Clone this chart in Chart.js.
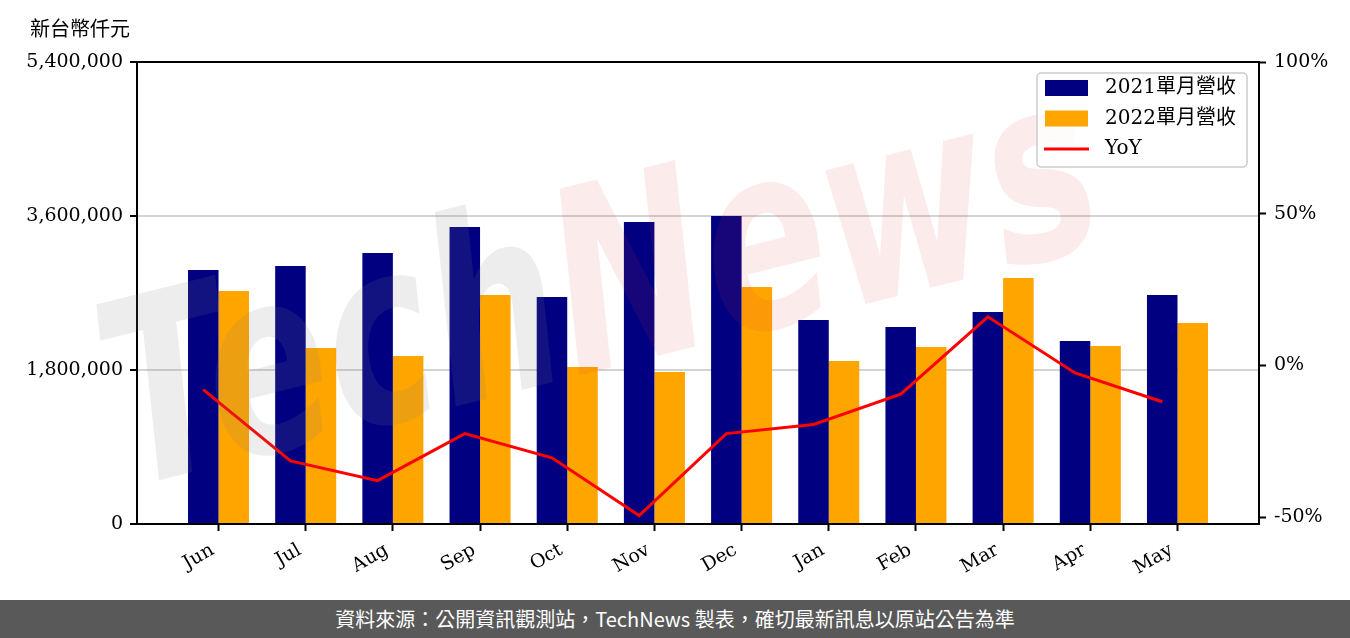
<!DOCTYPE html>
<html>
<head>
<meta charset="utf-8">
<script src="https://cdn.jsdelivr.net/npm/chart.js@4.4.0/dist/chart.umd.min.js"></script>
<style>
  body { margin: 0; background: #fff; width: 1350px; height: 638px; overflow: hidden; position: relative; }
  #wrap { position: absolute; left: 0; top: 0; width: 1350px; height: 600px; }
  #unit { position: absolute; left: 30px; top: 13px; font: 20px "Noto Sans CJK TC"; color: #000; }
  #footer { position: absolute; left: 0; top: 600px; width: 1350px; height: 38px; background: #595959;
            color: #fff; font: 20px "Noto Sans CJK TC"; text-align: center; line-height: 38px; }
</style>
</head>
<body>
<div id="wrap"><canvas id="revChart"></canvas></div>
<div id="unit">新台幣仟元</div>
<div id="footer">資料來源：公開資訊觀測站，TechNews 製表，確切最新訊息以原站公告為準</div>
<script>
const months = ["Jun", "Jul", "Aug", "Sep", "Oct", "Nov", "Dec", "Jan", "Feb", "Mar", "Apr", "May"];
const rev2021 = [2969000, 3016000, 3168000, 3471000, 2653000, 3530000, 3600000, 2384000, 2303000, 2478000, 2139000, 2677000];
const rev2022 = [2723000, 2057000, 1964000, 2677000, 1835000, 1777000, 2770000, 1905000, 2069000, 2875000, 2081000, 2349000];
const yoy = [-8.0, -31.5, -38.0, -22.5, -30.5, -49.5, -22.5, -19.5, -9.5, 16.0, -2.5, -12.0];
const revTicks = [0, 1800000, 3600000, 5400000];
const yoyTicks = [-50, 0, 50, 100];

const serif = '"DejaVu Serif", "Noto Sans CJK TC"';
const barShift = 0.175; // line sits on the 2021 bar centre

// watermark drawn over the bars
const watermark = {
  id: "watermark",
  afterDatasetsDraw(chart) {
    const ctx = chart.ctx;
    ctx.save();
    ctx.translate(128, 488);
    ctx.rotate(-14 * Math.PI / 180);
    ctx.scale(1, 1.4);
    ctx.font = 'italic bold 182px "DejaVu Sans"';
    ctx.fillStyle = "rgba(128,128,128,0.14)";
    ctx.fillText("Tech", 0, 0);
    const w = ctx.measureText("Tech").width;
    ctx.fillStyle = "rgba(220,60,60,0.1)";
    ctx.fillText("News", w, 0);
    ctx.restore();
  }
};

// boxed legend + top frame line
const boxLegend = {
  id: "boxLegend",
  afterDraw(chart) {
    const ctx = chart.ctx;
    const a = chart.chartArea;
    ctx.save();
    ctx.strokeStyle = "#000";
    ctx.lineWidth = 2;
    ctx.beginPath();
    ctx.moveTo(a.left - 1, a.top);
    ctx.lineTo(a.right + 1, a.top);
    ctx.stroke();

    const x = a.right - 222, y = a.top + 11, w = 210, h = 94;
    ctx.fillStyle = "rgba(255,255,255,0.8)";
    ctx.strokeStyle = "#cccccc";
    ctx.lineWidth = 1.5;
    ctx.beginPath();
    ctx.roundRect(x, y, w, h, 4);
    ctx.fill();
    ctx.stroke();

    const items = [
      { label: "2021單月營收", color: "#000080", kind: "box" },
      { label: "2022單月營收", color: "#ffa500", kind: "box" },
      { label: "YoY", color: "#ff0000", kind: "line" }
    ];
    ctx.font = "20px " + serif;
    ctx.textBaseline = "middle";
    items.forEach((it, i) => {
      const cy = y + 15 + i * 30.5;
      if (it.kind === "box") {
        ctx.fillStyle = it.color;
        ctx.fillRect(x + 8, cy - 8, 43, 16);
      } else {
        ctx.strokeStyle = it.color;
        ctx.lineWidth = 3;
        ctx.beginPath();
        ctx.moveTo(x + 7, cy);
        ctx.lineTo(x + 52, cy);
        ctx.stroke();
      }
      ctx.fillStyle = "#000";
      ctx.fillText(it.label, x + 68, cy);
    });
    ctx.restore();
  }
};

new Chart(document.getElementById("revChart"), {
  type: "bar",
  data: {
    datasets: [
      {
        label: "2021單月營收",
        data: rev2021.map((v, i) => ({ x: i, y: v })),
        backgroundColor: "#000080",
        categoryPercentage: 0.7,
        barPercentage: 1.0,
        order: 2
      },
      {
        label: "2022單月營收",
        data: rev2022.map((v, i) => ({ x: i, y: v })),
        backgroundColor: "#ffa500",
        categoryPercentage: 0.7,
        barPercentage: 1.0,
        order: 2
      },
      {
        type: "line",
        label: "YoY",
        data: yoy.map((v, i) => ({ x: i - barShift, y: v })),
        borderColor: "#ff0000",
        borderWidth: 3,
        pointRadius: 0,
        tension: 0,
        yAxisID: "y1",
        order: 1
      }
    ]
  },
  options: {
    responsive: true,
    maintainAspectRatio: false,
    animation: false,
    layout: { padding: { top: 62, left: 0, right: 0, bottom: 0 } },
    plugins: {
      legend: { display: false },
      tooltip: { enabled: false }
    },
    scales: {
      x: {
        type: "linear",
        offset: false,
        min: -0.935,
        max: 11.935,
        afterBuildTicks(scale) {
          scale.ticks = months.map((m, i) => ({ value: i }));
        },
        afterFit(scale) { scale.height = 76; },
        grid: { offset: false, drawOnChartArea: false, tickColor: "#000", tickWidth: 2, tickLength: 7 },
        border: { color: "#000", width: 2 },
        ticks: {
          callback: (v) => months[v],
          maxRotation: 30,
          minRotation: 30,
          padding: 8,
          labelOffset: -6,
          color: "#000",
          font: { family: serif, size: 19 }
        }
      },
      y: {
        min: 0,
        max: 5400000,
        afterBuildTicks(scale) {
          scale.ticks = revTicks.map(v => ({ value: v }));
        },
        afterFit(scale) { scale.width = 137; },
        grid: { color: "#d3d3d3", lineWidth: 2, tickColor: "#000", tickWidth: 2, tickLength: 7 },
        border: { color: "#000", width: 2 },
        ticks: {
          callback: (v) => v.toLocaleString("en-US"),
          padding: 7,
          color: "#000",
          font: { family: serif, size: 19 }
        }
      },
      y1: {
        position: "right",
        min: -52.3,
        max: 100,
        afterBuildTicks(scale) {
          scale.ticks = yoyTicks.map(v => ({ value: v }));
        },
        afterFit(scale) { scale.width = 91; },
        grid: { drawOnChartArea: false, tickColor: "#000", tickWidth: 2, tickLength: 7 },
        border: { color: "#000", width: 2 },
        ticks: {
          callback: (v) => v + "%",
          padding: 8,
          color: "#000",
          font: { family: serif, size: 19 }
        }
      }
    }
  },
  plugins: [watermark, boxLegend]
});
</script>
</body>
</html>
